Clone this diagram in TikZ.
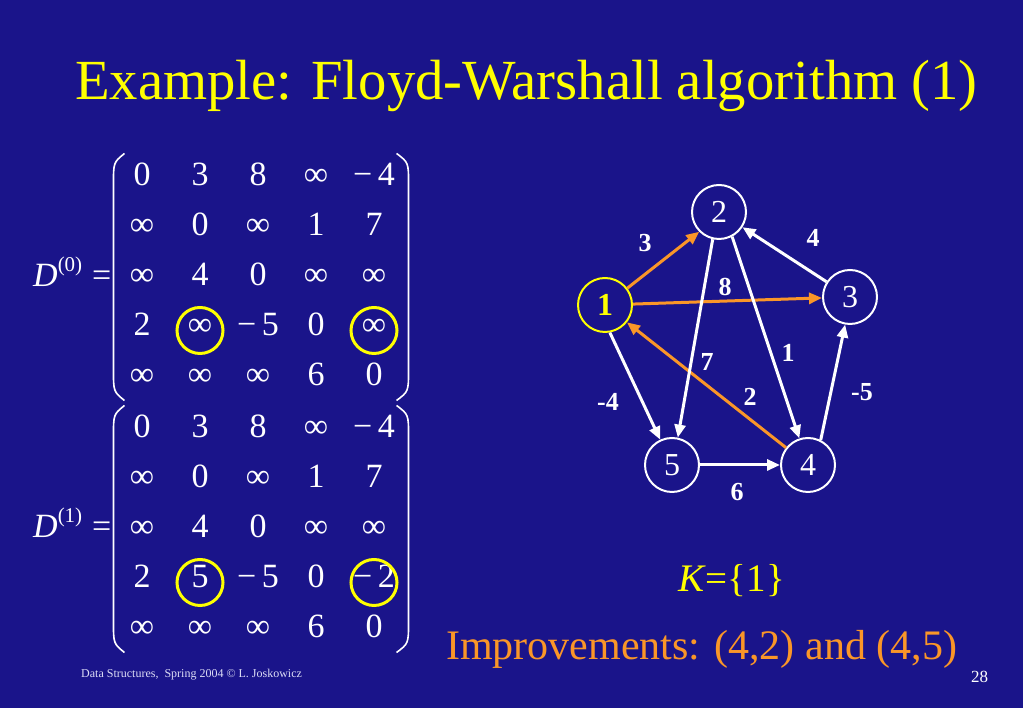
\documentclass[tikz,border=0pt]{standalone}
\usepackage{fontspec}
\setmainfont{Liberation Serif}
\usetikzlibrary{arrows.meta,matrix}

\definecolor{slideblue}{RGB}{26,20,138}
\definecolor{hiyellow}{RGB}{255,255,0}
\definecolor{improve}{RGB}{250,150,40}
\definecolor{footgray}{RGB}{220,220,245}

\newcommand{\infsym}{∞}
\newcommand{\minusnum}[1]{−\,#1}

\tikzset{
  vertex/.style={circle, draw=white, line width=2pt, minimum size=54pt, inner sep=0pt,
    text=white, font=\fontsize{32}{32}\selectfont},
  wedge/.style={draw=white, line width=3pt, -{Triangle[length=13pt,width=11pt]}},
  oedge/.style={wedge, draw=improve},
  wlabel/.style={text=white, inner sep=0pt, font=\fontsize{26}{26}\selectfont\bfseries},
  dist/.style={matrix of nodes,
    nodes={text=white, font=\fontsize{34}{34}\selectfont, minimum width=44pt,
      text height=28pt, text depth=10pt, inner sep=0pt},
    column sep=14pt, row sep=12pt},
  paren/.style={draw=white, line width=1.6pt},
  dname/.style={anchor=base west, inner sep=0pt, text=white, font=\fontsize{34}{34}\selectfont},
  ring/.style={draw=hiyellow, line width=3pt}
}

\begin{document}
\begin{tikzpicture}[x=1pt,y=1pt]
% Page
\useasboundingbox (0,0) rectangle (1023,708);
\fill[slideblue] (0,0) rectangle (1023,708);

% Title
\node (title) [anchor=base west, inner sep=0pt, text=hiyellow,
  font=\fontsize{56.7}{60}\selectfont] at (75,608) {Example: Floyd-Warshall algorithm (1)};

% Matrices
\node (dzerolab) [dname] at (33,421) {\textit{D}\raisebox{15pt}{\fontsize{21}{21}\selectfont(0)}\hspace{10pt}=};
\matrix (dzero) [dist] at (258,431) {
  0 & 3 & 8 & \infsym & \minusnum{4} \\
  \infsym & 0 & \infsym & 1 & 7 \\
  \infsym & 4 & 0 & \infsym & \infsym \\
  2 & \infsym & \minusnum{5} & 0 & \infsym \\
  \infsym & \infsym & \infsym & 6 & 0 \\
};
\node (donelab) [dname] at (33,170) {\textit{D}\raisebox{15pt}{\fontsize{21}{21}\selectfont(1)}\hspace{10pt}=};
\matrix (done) [dist] at (258,179) {
  0 & 3 & 8 & \infsym & \minusnum{4} \\
  \infsym & 0 & \infsym & 1 & 7 \\
  \infsym & 4 & 0 & \infsym & \infsym \\
  2 & 5 & \minusnum{5} & 0 & \minusnum{2} \\
  \infsym & \infsym & \infsym & 6 & 0 \\
};

% Brackets
\foreach \m in {dzero,done} {
  \draw[paren] ([xshift=8pt,yshift=1pt]\m.north west) .. controls ([xshift=-3pt,yshift=-8pt]\m.north west)
    .. ([xshift=-3pt,yshift=-30pt]\m.north west) -- ([xshift=-3pt,yshift=30pt]\m.south west)
    .. controls ([xshift=-3pt,yshift=8pt]\m.south west) .. ([xshift=8pt,yshift=-1pt]\m.south west);
  \draw[paren] ([xshift=-3pt,yshift=1pt]\m.north east) .. controls ([xshift=9pt,yshift=-8pt]\m.north east)
    .. ([xshift=9pt,yshift=-30pt]\m.north east) -- ([xshift=9pt,yshift=30pt]\m.south east)
    .. controls ([xshift=9pt,yshift=8pt]\m.south east) .. ([xshift=-3pt,yshift=-1pt]\m.south east);
}

% Highlighted entries
\draw[ring] ([yshift=-3.5pt]dzero-4-2.center) circle (23);
\draw[ring] ([yshift=-3.5pt]dzero-4-5.center) circle (23);
\draw[ring] ([yshift=-3.5pt]done-4-2.center) circle (23);
\draw[ring] ([yshift=-3.5pt]done-4-5.center) circle (23);

% Graph
\node (n1) [vertex, draw=hiyellow, text=hiyellow, font=\fontsize{32}{32}\selectfont\bfseries] at (605,403) {1};
\node (n2) [vertex] at (719,496) {2};
\node (n3) [vertex] at (850,411) {3};
\node (n4) [vertex] at (808,243) {4};
\node (n5) [vertex] at (672,243) {5};

\draw[oedge] (n1.37) -- (n2.-135);
\draw[oedge] (n1) -- (n3);
\draw[oedge] (n4) -- (n1);
\draw[wedge] (n1.-80) -- (n5.115);
\draw[wedge] (n2.-103) -- (n5.78);
\draw[wedge] (n2.-62) -- (n4.108);
\draw[wedge] (n3) -- (n2);
\draw[wedge] (n4.63) -- (n3.-100);
\draw[wedge] (n5) -- (n4);

% Weights
\node (w12) [wlabel] at (645,465) {3};
\node (w32) [wlabel] at (813,470) {4};
\node (w13) [wlabel] at (725,421) {8};
\node (w25) [wlabel] at (707,346) {7};
\node (w24) [wlabel] at (788,355) {1};
\node (w41) [wlabel] at (750,311) {2};
\node (w15) [wlabel] at (608,306) {-4};
\node (w43) [wlabel] at (862,316) {-5};
\node (w54) [wlabel] at (737,216) {6};

% Captions
\node (kset) [anchor=base west, inner sep=0pt, text=hiyellow,
  font=\fontsize{39}{39}\selectfont] at (678,116) {\textit{K}=\{1\}};
\node (gain) [anchor=base west, inner sep=0pt, text=improve,
  font=\fontsize{42}{42}\selectfont] at (446,48) {Improvements: (4,2) and (4,5)};
\node (foot) [anchor=base west, inner sep=0pt, text=footgray,
  font=\fontsize{12}{12}\selectfont] at (81,30) {Data Structures,\ \ Spring 2004 © L. Joskowicz};
\node (page) [anchor=base west, inner sep=0pt, text=white,
  font=\fontsize{17}{17}\selectfont] at (971,25) {28};
\end{tikzpicture}
\end{document}
